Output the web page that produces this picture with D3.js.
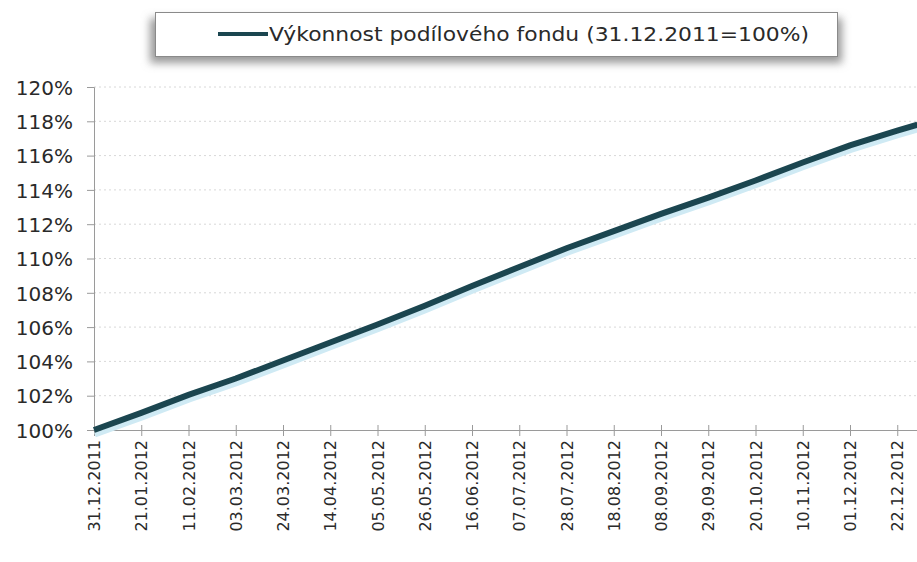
<!DOCTYPE html>
<html><head><meta charset="utf-8">
<script src="https://cdn.jsdelivr.net/npm/d3@7"></script>
<style>body{margin:0;background:#fff}svg{display:block}</style>
</head><body><svg id="c" width="917" height="562"></svg>
<script>
const dates = ["31.12.2011","21.01.2012","11.02.2012","03.03.2012","24.03.2012","14.04.2012","05.05.2012","26.05.2012","16.06.2012","07.07.2012","28.07.2012","18.08.2012","08.09.2012","29.09.2012","20.10.2012","10.11.2012","01.12.2012","22.12.2012","31.12.2012"];
const values = [100.0,101.0,102.05,103.0,104.05,105.1,106.15,107.25,108.4,109.5,110.6,111.6,112.6,113.55,114.55,115.6,116.6,117.45,117.8];
const tickLabels = dates.slice(0,18);
const yTicks = [100,102,104,106,108,110,112,114,116,118,120];
const seriesName = "Výkonnost podílového fondu (31.12.2011=100%)";

const parse = d3.timeParse("%d.%m.%Y");
const data = dates.map((d,i)=>({date:parse(d), v:values[i]}));
const svg = d3.select("#c");
const x = d3.scaleTime().domain([parse("31.12.2011"), parse("31.12.2012")]).range([94, 917.5]);
const y = d3.scaleLinear().domain([100,120]).range([430, 87]);
const font = "DejaVu Sans";

const defs = svg.append("defs");
const f = defs.append("filter").attr("id","sh").attr("x","-10%").attr("y","-50%").attr("width","120%").attr("height","220%");
f.append("feGaussianBlur").attr("stdDeviation",4);

// grid
svg.append("g").selectAll("line").data(yTicks.slice(1)).join("line")
  .attr("x1",94).attr("x2",917).attr("y1",d=>y(d)).attr("y2",d=>y(d))
  .attr("stroke","#d8d8d8").attr("stroke-width",1).attr("stroke-dasharray","2,3");

// y axis
const ya = svg.append("g").attr("transform","translate(94,0)")
  .call(d3.axisLeft(y).tickValues(yTicks).tickSize(7).tickPadding(14).tickFormat(d=>d+"%"));
ya.select(".domain").attr("stroke","#9a9a9a");
ya.selectAll(".tick line").attr("stroke","#9a9a9a");
ya.selectAll("text").attr("font-family",font).attr("font-size",20).attr("fill","#2a2a2a").attr("dy","0.36em");

// x axis
const xa = svg.append("g").attr("transform","translate(0,430)")
  .call(d3.axisBottom(x).tickValues(tickLabels.map(parse)).tickSize(6).tickFormat(d3.timeFormat("%d.%m.%Y")));
xa.select(".domain").attr("stroke","#9a9a9a");
xa.selectAll(".tick line").attr("stroke","#9a9a9a").attr("y1",-5);
xa.selectAll("text").attr("font-family",font).attr("font-size",16).attr("fill","#2a2a2a")
  .attr("transform","rotate(-90)").attr("text-anchor","end").attr("x",-10).attr("y",0).attr("dy","0.35em");

// line shadow + line
const line = d3.line().x(d=>x(d.date)).y(d=>y(d.v));
svg.append("path").datum(data).attr("d",line).attr("fill","none")
  .attr("stroke","#cfeaf4").attr("stroke-width",5).attr("transform","translate(1,5)");
svg.append("path").datum(data).attr("d",line).attr("fill","none")
  .attr("stroke","#1b4650").attr("stroke-width",6);

// legend
const lg = svg.append("g");
lg.append("rect").attr("x",150).attr("y",18).attr("width",692).attr("height",45).attr("fill","#999").attr("filter","url(#sh)");
lg.append("rect").attr("x",155.5).attr("y",12.5).attr("width",682).attr("height",44).attr("fill","#fff").attr("stroke","#8a8a8a");
lg.append("line").attr("x1",218).attr("x2",268).attr("y1",34).attr("y2",34).attr("stroke","#1b4650").attr("stroke-width",4);
lg.append("text").attr("x",269).attr("y",34).attr("dy","0.35em").attr("font-family",font).attr("font-size",19)
  .attr("textLength",540).attr("lengthAdjust","spacingAndGlyphs").attr("fill","#2a2a2a").text(seriesName);
</script></body></html>
